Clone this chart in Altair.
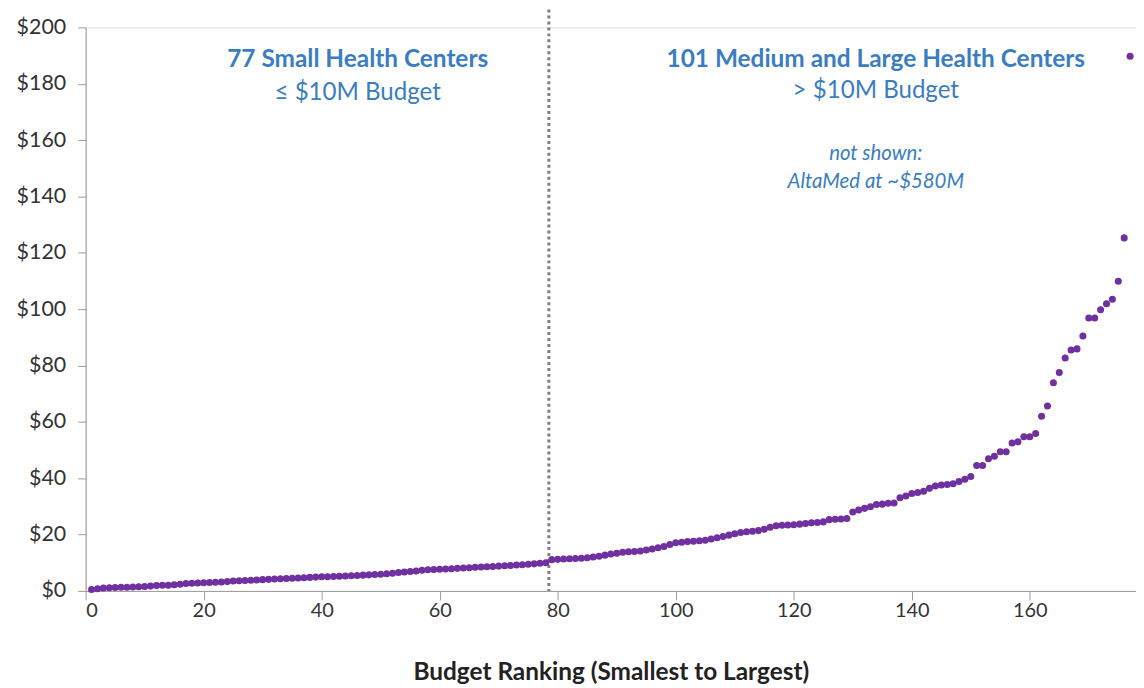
import altair as alt
import pandas as pd

budgets = [
    0.5, 0.8, 1.0, 1.1, 1.2, 1.3, 1.3, 1.4, 1.5, 1.6,
    1.7, 1.9, 2.0, 2.0, 2.2, 2.4, 2.6, 2.7, 2.8, 2.9,
    3.0, 3.1, 3.2, 3.3, 3.5, 3.6, 3.7, 3.8, 3.9, 4.0,
    4.1, 4.2, 4.3, 4.4, 4.5, 4.6, 4.7, 4.8, 4.9, 5.0,
    5.0, 5.1, 5.2, 5.3, 5.4, 5.5, 5.6, 5.7, 5.8, 5.9,
    6.1, 6.3, 6.5, 6.7, 6.9, 7.1, 7.3, 7.5, 7.6, 7.7,
    7.8, 7.9, 8.0, 8.1, 8.2, 8.4, 8.5, 8.6, 8.7, 8.8,
    8.9, 9.0, 9.2, 9.3, 9.5, 9.6, 9.8, 10.0,
    11.1, 11.2, 11.3, 11.4, 11.5, 11.6, 11.8, 12.0, 12.3, 12.7,
    13.1, 13.4, 13.7, 13.9, 14.0, 14.2, 14.5, 14.9, 15.3, 15.8,
    16.5, 17.1, 17.3, 17.5, 17.6, 17.8, 18.0, 18.4, 18.9, 19.3,
    19.8, 20.3, 20.7, 21.0, 21.2, 21.4, 21.9, 22.6, 23.1, 23.3,
    23.4, 23.5, 23.7, 23.9,
    24.2, 24.3, 24.5, 25.3, 25.4, 25.5, 25.7, 28.0, 28.7, 29.3,
    29.9, 30.7, 30.8, 31.1, 31.2, 33.1, 33.7, 34.6, 34.9, 35.4,
    36.4, 37.2, 37.6, 37.8, 38.0, 38.8, 39.6, 40.6, 44.5, 44.5,
    46.9, 47.8, 49.4, 49.4, 52.5, 52.9, 54.7, 54.7, 55.9, 62.0,
    65.6, 73.9, 77.5, 82.7, 85.5, 85.9, 90.5, 96.9, 96.9, 99.8,
    101.9, 103.5, 109.9, 125.3, 189.8,
]
ranks = list(range(1, len(budgets) + 1))

divider_rank = [78.5]

bold_text = ["77 Small Health Centers", "101 Medium and Large Health Centers"]
bold_x = [46.1, 133.9]
bold_y = [188.3, 188.3]

sub_text = ["≤ $10M Budget", "> $10M Budget"]
sub_x = [46.1, 133.9]
sub_y = [176.8, 177.5]

note_text = ["not shown:", "AltaMed at ~$580M"]
note_x = [133.9, 133.9]
note_y = [155.0, 145.0]

FONT = "Lato"
BLUE = "#3B7DC4"

df = pd.DataFrame({"rank": ranks, "budget": budgets})
div = pd.DataFrame({"x": divider_rank})

xscale = alt.Scale(domain=[0, 178], nice=False, zero=False)
yscale = alt.Scale(domain=[0, 200], nice=False)

points = alt.Chart(df).mark_circle(size=50, opacity=1, color="#7030A0").encode(
    x=alt.X("rank:Q", scale=xscale,
            axis=alt.Axis(values=list(range(0, 161, 20)), title="Budget Ranking (Smallest to Largest)",
                          grid=False, domainColor="#9a9a9a", tickColor="#9a9a9a", tickSize=9,
                          labelFontSize=20, labelColor="#333333", labelFont=FONT, labelPadding=1,
                          titleFont=FONT, titleFontSize=24.5, titleFontWeight="bold", titleColor="#222222",
                          titlePadding=40)),
    y=alt.Y("budget:Q", scale=yscale,
            axis=alt.Axis(values=list(range(0, 201, 10)),
                          labelExpr="datum.value % 20 == 0 ? '$' + datum.value : ''",
                          title=None, grid=False, domainColor="#9a9a9a", tickColor="#9a9a9a", tickSize=8,
                          labelFontSize=21.5, labelColor="#333333", labelFont=FONT, labelPadding=12)),
)

divider = alt.Chart(div).mark_rule(color="#808080", strokeWidth=3, strokeDash=[3, 3]).encode(
    x=alt.X("x:Q", scale=xscale),
    y=alt.value(-18),
    y2=alt.value(566),
)


def text_layer(texts, xs, ys, **kw):
    d = pd.DataFrame({"text": texts, "x": xs, "y": ys})
    return alt.Chart(d).mark_text(font=FONT, color=BLUE, align="center", baseline="middle", **kw).encode(
        x=alt.X("x:Q", scale=xscale),
        y=alt.Y("y:Q", scale=yscale),
        text="text:N",
    )


bold_layer = text_layer(bold_text, bold_x, bold_y, fontSize=24.5, fontWeight="bold")
sub_layer = text_layer(sub_text, sub_x, sub_y, fontSize=24.2)
note_layer = text_layer(note_text, note_x, note_y, fontSize=20.5, fontStyle="italic")

chart = alt.layer(divider, points, bold_layer, sub_layer, note_layer).properties(
    width=1055, height=566,
    padding={"left": 78, "top": 18, "right": 0, "bottom": 92},
    autosize=alt.AutoSizeParams(type="none"),
).configure_view(stroke=None).configure(background="white")

chart.save("out.html", embed_options={"renderer": "svg", "actions": False})
